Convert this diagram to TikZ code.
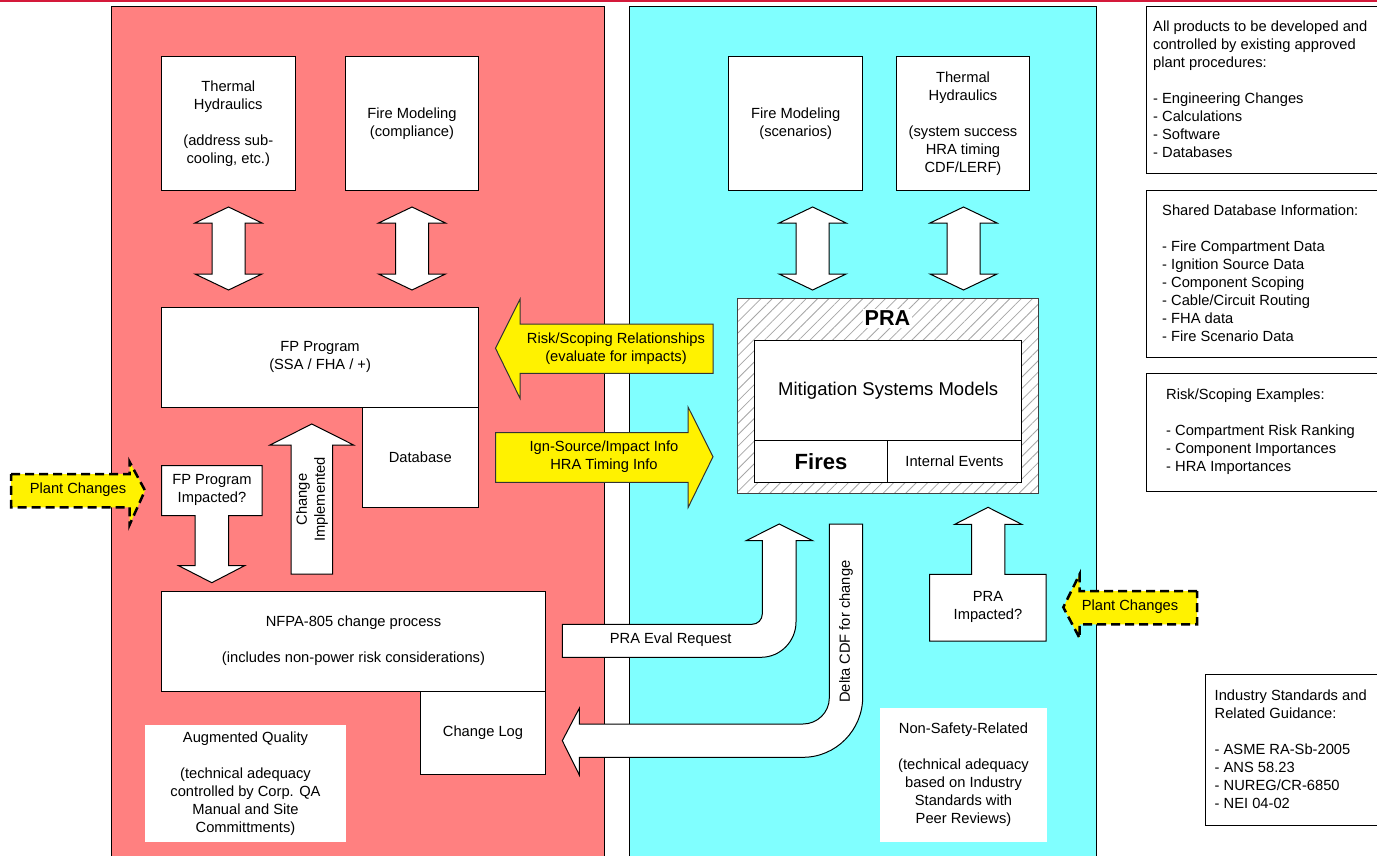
\documentclass[tikz,border=0pt]{standalone}
\usepackage{fontspec}
\setmainfont{Liberation Sans}
\usetikzlibrary{patterns.meta}
\definecolor{fpred}{HTML}{FF8080}
\definecolor{pracyan}{HTML}{80FFFF}
\definecolor{topline}{HTML}{D4193A}

\begin{document}
\begin{tikzpicture}[
    x=1pt, y=-1pt,
    txt/.style={font=\fontsize{14.7}{18}\selectfont, align=center, inner sep=0pt},
    lst/.style={font=\fontsize{14.7}{18}\selectfont, align=left, anchor=west, inner sep=0pt},
    box/.style={txt, draw=black, fill=white, line width=1pt},
    panel/.style={draw=black, line width=1pt},
    blockarr/.style={draw=black, fill=white, line width=1pt},
    yarr/.style={draw=black!80, fill=yellow, line width=1pt},
    plantarr/.style={draw=black, fill=yellow, line width=2.5pt, dash pattern=on 9pt off 5pt},
    updown/.pic={\draw[blockarr] (0,-41.5) -- (33.5,-25.5) -- (16.5,-25.5) -- (16.5,25.5) -- (33.5,25.5) -- (0,41.5) -- (-33.5,25.5) -- (-16.5,25.5) -- (-16.5,-25.5) -- (-33.5,-25.5) -- cycle;}
]
\useasboundingbox (0,0) rectangle (1377,856);
\fill[white] (0,0) rectangle (1377,856);
\draw[topline, line width=2pt] (0,1) -- (1377,1);

% Panels
\draw[panel, fill=fpred] (111.6,6.7) rectangle (604,870);
\draw[panel, fill=pracyan] (629.7,6.7) rectangle (1096.5,870);

% Fire protection side
\node[box, minimum width=133.4, minimum height=134] (thL) at (228.3,123.7) {Thermal\\Hydraulics\\[18pt](address sub-\\cooling, etc.)};
\node[box, minimum width=133, minimum height=134] (fmL) at (412,123.7) {Fire Modeling\\(compliance)};
\pic at (228.5,248.5) {updown};
\pic at (412,248.5) {updown};
\node[box, minimum width=317, minimum height=100] (fpp) at (320.1,357.3) {FP Program\\(SSA / FHA / +)};
\node[box, minimum width=116.6, minimum height=100] (dbase) at (420.3,457.3) {Database};

% Change implemented
\draw[blockarr] (291,574) -- (291,445) -- (270,445) -- (311.8,424) -- (353.6,445) -- (332.6,445) -- (332.6,574) -- cycle;
\node[txt, rotate=90] (chimp) at (312,499.5) {Change\\Implemented};

% FP program impacted
\draw[blockarr] (161.6,465.7) -- (262,465.7) -- (262,515.7) -- (228.6,515.7) -- (228.6,565.7) -- (244.6,565.7) -- (211.8,582.7) -- (178.6,565.7) -- (195,565.7) -- (195,515.7) -- (161.6,515.7) -- cycle;
\node[txt] (fpimp) at (212,490) {FP Program\\Impacted?};

\node[box, minimum width=384, minimum height=100] (nfpa) at (353.5,641) {NFPA-805 change process\\[18pt](includes non-power risk considerations)};
\node[box, minimum width=125, minimum height=83.3] (clog) at (483,732.7) {Change Log};
\node[txt, fill=white, minimum width=201, minimum height=116.7] (augq) at (245.5,783.3) {Augmented Quality\\[18pt](technical adequacy\\controlled by Corp. QA\\Manual and Site\\Committments)};

% PRA side
\node[box, minimum width=133.8, minimum height=134] (fmR) at (795.7,123.7) {Fire Modeling\\(scenarios)};
\node[box, minimum width=133.3, minimum height=134] (thR) at (963,123.7) {Thermal\\Hydraulics\\[18pt](system success\\HRA timing\\CDF/LERF)};
\pic at (812.6,248.5) {updown};
\pic at (963.5,248.5) {updown};

% PRA model
\fill[white] (737.3,298.7) rectangle (1038.5,493.3);
\fill[pattern={Lines[angle=45, distance=8pt, line width=0.8pt]}, pattern color=black!35] (737.3,298.7) rectangle (1038.5,493.3);
\node[draw=black!75, line width=1pt, minimum width=301.2, minimum height=194.6, inner sep=0pt] (pra) at (887.9,396) {};
\node[txt, fill=white, inner sep=2pt, font=\fontsize{21.6}{24}\selectfont\bfseries] (pralbl) at (887.4,318.3) {PRA};
\node[box, minimum width=267, minimum height=100, font=\fontsize{18.5}{22}\selectfont] (mit) at (888.2,390.7) {Mitigation Systems Models};
\node[box, minimum width=132.8, minimum height=42, font=\fontsize{22}{24}\selectfont\bfseries] (fires) at (821,461.7) {Fires};
\node[box, minimum width=134.3, minimum height=42] (intev) at (954.5,461.7) {Internal Events};

% PRA impacted
\draw[blockarr] (929.5,641) -- (929.5,574.3) -- (971.7,574.3) -- (971.7,524.3) -- (954.8,524.3) -- (988,507.3) -- (1021.7,524.3) -- (1004.9,524.3) -- (1004.9,574.3) -- (1046,574.3) -- (1046,641) -- cycle;
\node[txt] (praimp) at (988,607) {PRA\\Impacted?};

\node[txt, fill=white, minimum width=167, minimum height=133.4] (nsr) at (963.5,775) {Non-Safety-Related\\[18pt](technical adequacy\\based on Industry\\Standards with\\Peer Reviews)};

% Exchange arrows
\draw[yarr] (713,324) -- (520,324) -- (520,299.3) -- (495.5,348.3) -- (520,398.3) -- (520,373.3) -- (713,373.3) -- cycle;
\node[txt] (risk) at (616,348.3) {Risk/Scoping Relationships\\(evaluate for impacts)};
\draw[yarr] (495.5,432.7) -- (688.2,432.7) -- (688.2,407.3) -- (713,456.7) -- (688.2,507.3) -- (688.2,482.3) -- (495.5,482.3) -- cycle;
\node[txt] (ign) at (604,457) {Ign-Source/Impact Info\\HRA Timing Info};

\draw[blockarr] (562.3,624.3) -- (752,624.3) .. controls (757.7,624.3) and (762.3,619.7) .. (762.3,614) -- (762.3,540.7) -- (746,540.7) -- (779.3,524) -- (812.7,540.7) -- (796,540.7) -- (796,622) .. controls (796,641.3) and (780.3,657.3) .. (761,657.3) -- (562.3,657.3) -- cycle;
\node[txt] (evalreq) at (670.7,640) {PRA Eval Request};
\draw[blockarr] (829.3,524) -- (862.7,524) -- (862.7,697) .. controls (862.7,730) and (836,757.3) .. (803,757.3) -- (579.3,757.3) -- (579.3,775) -- (562.3,740.7) -- (579.3,708.3) -- (579.3,724) -- (803,724) .. controls (817.4,724) and (829.3,712.4) .. (829.3,698) -- cycle;
\node[txt, rotate=90] (delta) at (846,631.7) {Delta CDF for change};

% Plant changes
\draw[plantarr] (11,474) -- (129.5,474) -- (129.5,461.7) -- (145,490.5) -- (129.5,525) -- (129.5,507.3) -- (11,507.3) -- cycle;
\node[txt] (pcL) at (78,490) {Plant Changes};
\draw[plantarr] (1197,591) -- (1079.7,591) -- (1079.7,574) -- (1063.3,607.3) -- (1079.7,638.3) -- (1079.7,624.3) -- (1197,624.3) -- cycle;
\node[txt] (pcR) at (1130,607) {Plant Changes};

% Notes on the right
\draw[panel] (1146.6,6.7) rectangle (1400,173.3);
\node[lst] (procs) at (1153,89.3) {All products to be developed and\\controlled by existing approved\\plant procedures:\\[18pt]- Engineering Changes\\- Calculations\\- Software\\- Databases};
\draw[panel] (1146.6,190.7) rectangle (1400,357.7);
\node[lst] (shared) at (1162,273) {Shared Database Information:\\[18pt]- Fire Compartment Data\\- Ignition Source Data\\- Component Scoping\\- Cable/Circuit Routing\\- FHA data\\- Fire Scenario Data};
\draw[panel] (1146.6,373.3) rectangle (1400,491);
\node[lst] (riskex) at (1166,431.5) {Risk/Scoping Examples:\\[18pt]- Compartment Risk Ranking\\- Component Importances\\- HRA Importances};
\draw[panel] (1205.5,674) rectangle (1400,825);
\node[lst] (stds) at (1214.5,749.5) {Industry Standards and\\Related Guidance:\\[18pt]- ASME RA-Sb-2005\\- ANS 58.23\\- NUREG/CR-6850\\- NEI 04-02};
\end{tikzpicture}
\end{document}
